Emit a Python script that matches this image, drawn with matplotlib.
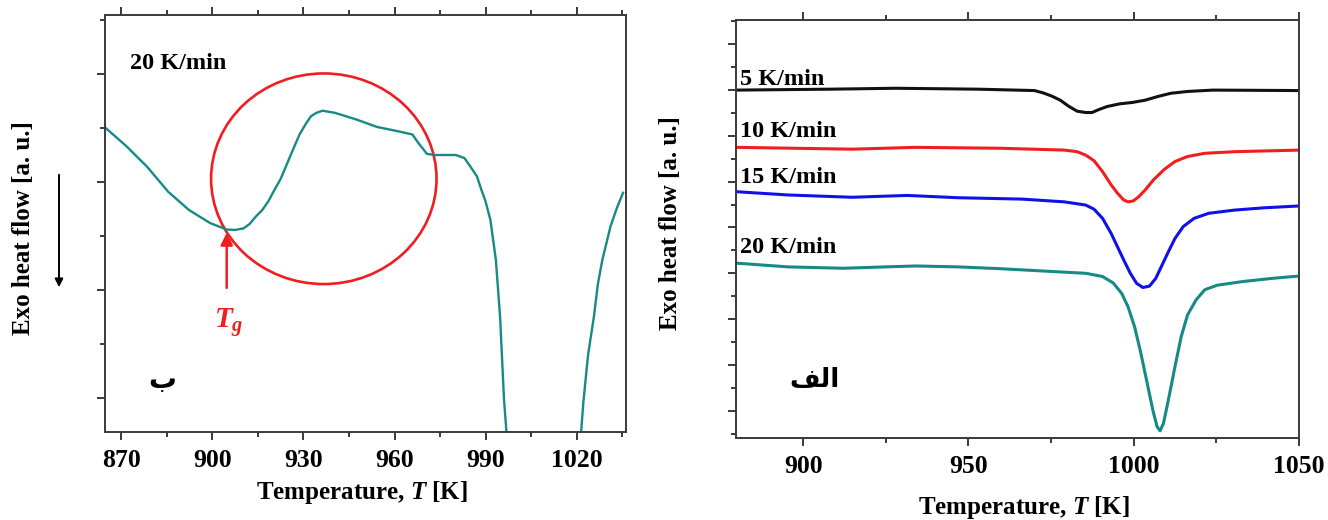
import matplotlib
matplotlib.use("Agg")
import matplotlib.pyplot as plt
import numpy as np
from matplotlib.patches import Ellipse, FancyArrowPatch
from matplotlib.ticker import MultipleLocator


#%% Data
# Left panel (ب): 20 K/min trace around Tg, NaN where the trace leaves the axes
Temp_B = [864.8, 871.7, 878.5, 885.4, 892.3, 899.2, 904.7, 907.4, 910.2, 912.2,
          914.3, 916.4, 918.4, 920.5, 922.5, 924.6, 926.7, 928.7, 930.8, 932.5,
          934.2, 936.3, 940.4, 947.3, 954.2, 961.1, 965.9, 967.9, 970.7, 973.4,
          980.3, 983.1, 985.8, 987.2, 988.6, 989.9, 991.6, 993.4, 994.8, 996.1,
          997.1, np.nan,
          1021.3, 1022.3, 1023.8, 1025.7, 1027.0, 1028.5, 1031.2, 1033.3, 1035.3]
Flow_B = [2.50, 2.33, 2.14, 1.91, 1.74, 1.62, 1.56, 1.556, 1.57, 1.61,
          1.68, 1.74, 1.82, 1.93, 2.03, 2.17, 2.31, 2.44, 2.54, 2.61,
          2.64, 2.66, 2.64, 2.58, 2.51, 2.47, 2.44, 2.36, 2.26, 2.25,
          2.25, 2.22, 2.11, 2.05, 1.93, 1.83, 1.65, 1.28, 0.75, -0.02,
          -0.39, np.nan,
          -0.39, -0.02, 0.40, 0.75, 1.05, 1.28, 1.59, 1.76, 1.90]

Tg_Temp = 904.7
Circle_Center = (936.7, 2.03)
Circle_Size = (74.3, 1.95)

# Right panel (الف): four heating rates
Rates = ["5 K/min", "10 K/min", "15 K/min", "20 K/min"]

Temp_05 = [880, 908, 928, 953, 970, 972.6, 975.2, 977.8, 980.3, 982.9, 985.5, 987.4,
           989.3, 991.9, 995.8, 999.6, 1003.5, 1007.3, 1011.2, 1016.3, 1024, 1050]
Flow_05 = [7.00, 7.02, 7.04, 7.02, 6.99, 6.94, 6.87, 6.78, 6.65, 6.54, 6.51, 6.51,
           6.57, 6.64, 6.70, 6.73, 6.78, 6.86, 6.93, 6.97, 7.00, 6.99]

Temp_10 = [880.1, 914.8, 934.1, 959.8, 979.0, 982.9, 985.5, 988.0, 990.6, 993.2,
           995.1, 997.0, 998.3, 999.9, 1001.5, 1003.5, 1006.0, 1009.3, 1012.5, 1016.3,
           1021.5, 1030.5, 1050]
Flow_10 = [5.75, 5.71, 5.75, 5.73, 5.69, 5.655, 5.58, 5.46, 5.22, 4.93,
           4.75, 4.60, 4.56, 4.58, 4.67, 4.82, 5.04, 5.27, 5.44, 5.55,
           5.62, 5.655, 5.69]

Temp_15 = [880.1, 895.5, 914.8, 931.5, 946.9, 966.2, 979.0, 985.5, 988.0, 990.6,
           993.2, 995.1, 997.0, 999.0, 1000.9, 1002.8, 1004.8, 1006.7, 1008.6, 1010.5,
           1012.5, 1015.0, 1018.3, 1022.7, 1030.5, 1039.5, 1050]
Flow_15 = [4.78, 4.71, 4.66, 4.70, 4.65, 4.62, 4.56, 4.49, 4.40, 4.20,
           3.87, 3.58, 3.29, 3.00, 2.78, 2.69, 2.72, 2.89, 3.18, 3.47,
           3.76, 4.02, 4.20, 4.31, 4.38, 4.43, 4.47]

Temp_20 = [880.1, 895.5, 912.2, 924.9, 934.1, 946.9, 959.8, 972.6, 985.5, 990.6,
           993.8, 996.4, 998.3, 1000.3, 1002.2, 1004.1, 1005.8, 1007.1, 1008.0, 1009.0,
           1010.5, 1012.5, 1014.4, 1016.3, 1018.9, 1021.5, 1025.3, 1033.0, 1042.0, 1050]
Flow_20 = [3.22, 3.14, 3.11, 3.14, 3.16, 3.14, 3.10, 3.05, 3.00, 2.93,
           2.79, 2.56, 2.27, 1.83, 1.25, 0.60, 0.015, -0.35, -0.44, -0.28,
           0.23, 0.96, 1.62, 2.09, 2.42, 2.64, 2.74, 2.82, 2.89, 2.94]

Label_Pos = [(881, 7.12), (881, 5.98), (881, 4.97), (881, 3.44)]


#%% Style
FontName = "Liberation Serif"
FontSize_TickLabel = 18.5
FontSize_AxisLabel = 18
FontSize_Text = 17.5

plt.rcParams["mathtext.fontset"] = "custom"
plt.rcParams["mathtext.rm"] = "Liberation Serif:bold"
plt.rcParams["mathtext.it"] = "Liberation Serif:italic:bold"
plt.rcParams["mathtext.bf"] = "Liberation Serif:bold"

Color_Teal = "#168a84"
Color_Red = "#f01e1e"
Color_Blue = "#1010e8"
Color_Black = "#111111"
Spine_Color = "#3a3a3a"
Axis_LineWidth = 1.4

XLabel = r"Temperature, $T$ [K]"
YLabel = "Exo heat flow [a. u.]"


def StyleAxis(ax, XMajor, XMinor, YMajor, YMinor):
    ax.xaxis.set_major_locator(MultipleLocator(XMajor))
    ax.xaxis.set_minor_locator(MultipleLocator(XMinor))
    ax.yaxis.set_major_locator(MultipleLocator(YMajor))
    ax.yaxis.set_minor_locator(MultipleLocator(YMinor))
    ax.tick_params(which="both", direction="out", top=True, right=False,
                   labelleft=False, color=Spine_Color, width=Axis_LineWidth)
    ax.tick_params(which="major", length=6, pad=6)
    ax.tick_params(which="minor", length=3.5)
    for lab in ax.get_xticklabels():
        lab.set_fontsize(FontSize_TickLabel)
        lab.set_fontfamily(FontName)
        lab.set_fontweight("bold")
    ax.spines[:].set_linewidth(Axis_LineWidth)
    ax.spines[:].set_color(Spine_Color)


#%% Figure
Fig = plt.figure(figsize=[13.28, 5.2], dpi=100)

# Left panel
ax1 = plt.axes([0.0791, 0.1692, 0.3923, 0.8019])
ax1.plot(Temp_B, Flow_B, c=Color_Teal, linewidth=1.7)
ax1.set_xlim([864.6, 1036.3])
ax1.set_ylim([-0.315, 3.546])
ax1.set_xticks(np.arange(870, 1021, 30))
StyleAxis(ax1, 30, 15, 1, 0.5)

ax1.add_patch(Ellipse(Circle_Center, Circle_Size[0], Circle_Size[1],
                      fill=False, edgecolor=Color_Red, linewidth=1.9))
ax1.annotate("", xy=(Tg_Temp, 1.53), xytext=(Tg_Temp, 1.02),
             arrowprops=dict(arrowstyle="-|>", color=Color_Red, lw=1.8,
                             mutation_scale=18, shrinkA=0, shrinkB=0))
ax1.text(Tg_Temp + 0.8, 0.70, r"$T_g$", color=Color_Red, fontsize=21,
         ha="center", va="center")
ax1.text(872.7, 3.10, "20 K/min", fontsize=FontSize_Text, fontfamily=FontName,
         fontweight="bold", va="center")
ax1.text(883.3, 0.17, "\u0628", fontsize=20, fontfamily="DejaVu Sans",
         fontweight="bold", ha="center", va="center")

ax1.set_xlabel(XLabel, fontsize=FontSize_AxisLabel, fontfamily=FontName,
               fontweight="bold", va="center")
ax1.xaxis.set_label_coords(0.493, -0.146)
ax1.set_ylabel(YLabel, fontsize=FontSize_AxisLabel, fontfamily=FontName,
               fontweight="bold", va="center")
ax1.yaxis.set_label_coords(-0.157, 0.489)

# Arrow beside the left y label
Fig.patches.append(FancyArrowPatch(
    (59 / 1328, 1 - 172 / 520), (59 / 1328, 1 - 290 / 520),
    transform=Fig.transFigure, arrowstyle="-|>", mutation_scale=12,
    color="black", lw=1.4))

# Right panel
ax2 = plt.axes([0.5542, 0.1577, 0.4239, 0.8038])
for Temp, Flow, Col in zip([Temp_05, Temp_10, Temp_15, Temp_20],
                           [Flow_05, Flow_10, Flow_15, Flow_20],
                           [Color_Black, Color_Red, Color_Blue, Color_Teal]):
    ax2.plot(Temp, Flow, c=Col, linewidth=2.2, solid_joinstyle="round")
for Lab, Pos in zip(Rates, Label_Pos):
    ax2.text(Pos[0], Pos[1], Lab, fontsize=FontSize_Text, fontfamily=FontName,
             fontweight="bold", va="baseline")
ax2.set_xlim([879.7, 1050])
ax2.set_ylim([-0.596, 8.53])
ax2.set_xticks(np.arange(900, 1051, 50))
StyleAxis(ax2, 50, 25, 1, 0.5)

# "الف" in visual (left-to-right) order of its presentation forms
ax2.text(903.5, 0.67, "\uFED2\uFEDF\uFE8D", fontsize=19, fontfamily="DejaVu Sans",
         fontweight="bold", ha="center", va="center")

ax2.set_xlabel(XLabel, fontsize=FontSize_AxisLabel, fontfamily=FontName,
               fontweight="bold", va="center")
ax2.xaxis.set_label_coords(0.512, -0.167)
ax2.set_ylabel(YLabel, fontsize=FontSize_AxisLabel, fontfamily=FontName,
               fontweight="bold", va="center")
ax2.yaxis.set_label_coords(-0.117, 0.514)

plt.savefig("out.png", dpi=100)
